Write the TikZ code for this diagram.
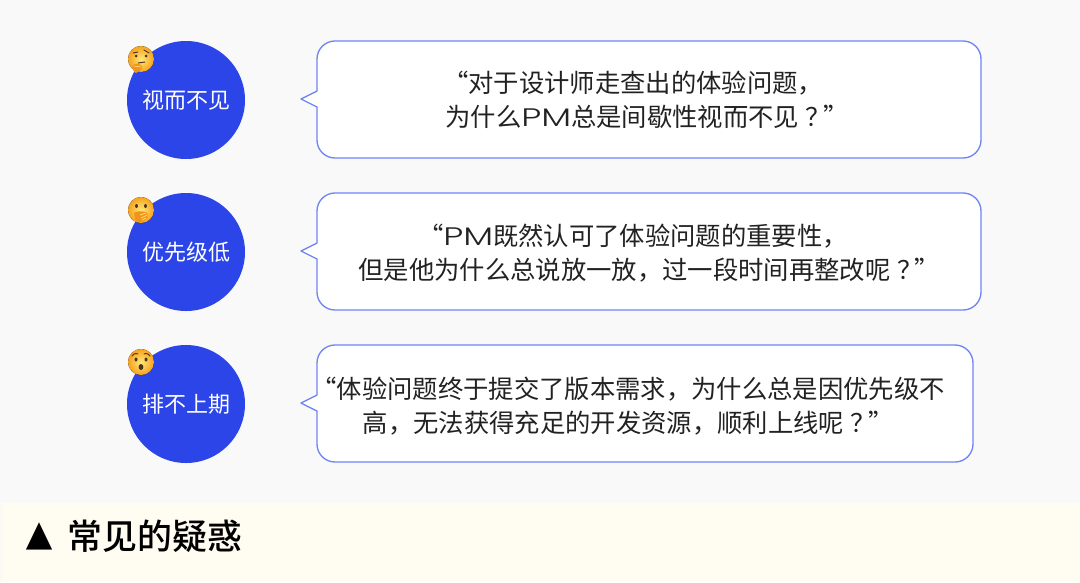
\documentclass[tikz,border=0pt]{standalone}
\usepackage{fontspec}
\setmainfont{Noto Sans CJK SC}
\newfontfamily\latinface{Poppins Light}
\newfontfamily\titleface{Noto Sans CJK SC Medium}
\newcommand{\pmword}{\scalebox{1.4}[1]{\latinface PM}}
\newcommand{\qend}{\hspace{5pt}？\hspace{-6pt}”}
\definecolor{pagebg}{HTML}{F9F9F9}
\definecolor{bandbg}{HTML}{FFFDF2}
\definecolor{bluefill}{HTML}{2B45E8}
\definecolor{blueline}{HTML}{6F84F5}
\definecolor{inkc}{HTML}{222222}
\definecolor{faceL}{HTML}{FFE878}
\definecolor{faceD}{HTML}{F6A21E}
\definecolor{featB}{HTML}{4A3420}
\definecolor{handc}{HTML}{F2931A}
\tikzset{
  x=0.75pt,y=-0.75pt,
  topic/.style={circle,fill=bluefill,draw=none,minimum size=88.5pt,inner sep=0pt,text=white,font=\fontsize{16.5}{20}\selectfont},
  bubble/.style={draw=blueline,line width=1pt,fill=white,line join=round},
  saying/.style={align=center,text=inkc,font=\fontsize{19}{25.5}\selectfont,inner sep=0pt},
  facebase/.style={shading=radial,inner color=faceL,outer color=faceD},
  feat/.style={fill=featB,draw=none},
  browl/.style={draw=featB,line width=0.7pt,line cap=round},
}
\newcommand{\bubblepath}[4]{% x right, y top, y bottom, tail y
  \draw[bubble] (317,#4-8) [rounded corners=13.5pt] -- (317,#2) -- (#1,#2) -- (#1,#3) -- (317,#3) [sharp corners] -- (317,#4+8) -- (301,#4) -- cycle;
}
\begin{document}
\begin{tikzpicture}
\useasboundingbox (0,0) rectangle (1080,582);
\fill[pagebg] (0,0) rectangle (1080,582);
\fill[bandbg] (2,503) rectangle (1080,582);

\node[topic] (t1) at (186,100) {\raisebox{0.75pt}{视而不见}};
\node[topic] (t2) at (186,252) {\raisebox{0.75pt}{优先级低}};
\node[topic] (t3) at (186,404) {\raisebox{0.75pt}{排不上期}};

\bubblepath{981}{41}{158}{99}
\bubblepath{981}{193}{310}{251}
\bubblepath{973}{345}{462}{403}

\node[saying] (s1) at (642,100) {“对于设计师走查出的体验问题，\hspace*{13.5pt}\\\hspace*{7.5pt}为什么\pmword 总是间歇性视而不见\qend};
\node[saying] (s2) at (640,253.5) {“\pmword 既然认可了体验问题的重要性，\hspace*{10.5pt}\\\hspace*{13.5pt}但是他为什么总说放一放，过一段时间再整改呢\qend};
\node[saying] (s3) at (628,406.5) {“体验问题终于提交了版本需求，为什么总是因优先级不\\高，无法获得充足的开发资源，顺利上线呢\qend};

% emoji 1: thinking
\begin{scope}[shift={(141,59)}]
  \fill[facebase] (0,0) circle[radius=13];
  \draw[browl] (-8,-6) -- (-3,-7);
  \draw[browl] (3,-9) -- (8,-6);
  \fill[feat] (-5,-3) circle[radius=1.5];
  \fill[feat] (5,-3) circle[radius=1.5];
  \draw[browl] (-3,4) -- (4,3);
  \fill[handc] (-8,6) .. controls (-4,3) and (2,6) .. (1,9) .. controls (0,12) and (-3,13) .. (-5,14) .. controls (-8,13) and (-9,9) .. (-8,6);
  \draw[faceL,line width=0.5pt] (-7,7) -- (0,8);
\end{scope}
% emoji 2: hand over mouth
\begin{scope}[shift={(141,210)}]
  \fill[facebase] (0,0) circle[radius=13];
  \fill[feat] (-4.5,-4) ellipse[x radius=1.4,y radius=2];
  \fill[feat] (4.5,-4) ellipse[x radius=1.4,y radius=2];
  \fill[handc] (-7,3) .. controls (-5,1) and (0,1) .. (5,2) .. controls (8,4) and (7,9) .. (3,11) .. controls (-1,13) and (-5,12) .. (-6,9) -- cycle;
  \draw[faceL,line width=0.5pt] (-1,5) -- (5,3) (0,8) -- (6,5) (1,10) -- (5,8);
\end{scope}
% emoji 3: hushed
\begin{scope}[shift={(141,362)}]
  \fill[facebase] (0,0) circle[radius=13];
  \draw[browl] (-9,-6) .. controls (-7,-9) and (-4,-9) .. (-3,-8);
  \draw[browl] (9,-6) .. controls (7,-9) and (4,-9) .. (3,-8);
  \fill[feat] (-5,-2.5) ellipse[x radius=1.5,y radius=2];
  \fill[feat] (5,-2.5) ellipse[x radius=1.5,y radius=2];
  \fill[feat] (0,5) ellipse[x radius=2.4,y radius=3];
\end{scope}

\node[inner sep=0pt,text=black,font=\fontsize{21}{30}\selectfont] (mark) at (40,536.5) {\scalebox{1}[1.2]{▲}};
\node[inner sep=0pt,anchor=west,text=black,font=\titleface\fontsize{26.2}{30}\selectfont] (title) at (67.5,536) {常见的疑惑};
\end{tikzpicture}
\end{document}
